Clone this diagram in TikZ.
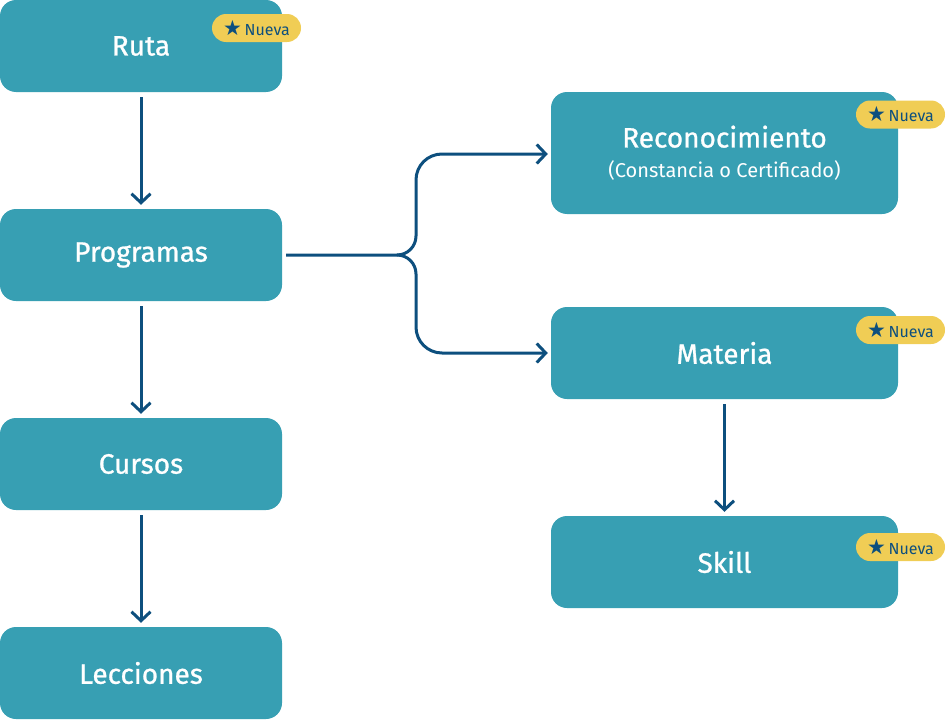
\documentclass[tikz,border=0pt]{standalone}
\usepackage{fontspec}
\setmainfont{Fira Sans}
\newfontfamily\medf[FakeBold=0.9]{Fira Sans}
\newfontfamily\regf{Fira Sans}
\newfontfamily\symf{DejaVu Sans}
\usetikzlibrary{arrows.meta}
\definecolor{teal1}{HTML}{379FB3}
\definecolor{navy}{HTML}{0D4F7E}
\definecolor{gold}{HTML}{F0CD55}
\begin{document}
\begin{tikzpicture}[x=1pt,y=-1pt,
  box/.style={fill=teal1,rounded corners=16pt,inner sep=0pt,text=white,font=\medf\fontsize{28}{30}\selectfont},
  badge/.style={fill=gold,rounded corners=14pt,minimum width=89pt,minimum height=28pt,inner sep=0pt,text=navy,font=\fontsize{16}{17}\selectfont},
  conn/.style={draw=navy,line width=3pt,-{Straight Barb[length=9pt,width=19pt,line width=3pt]}}]
\useasboundingbox (0,0) rectangle (946,720);
\node[box,minimum width=282pt,minimum height=92pt] (ruta) at (141,46) {Ruta};
\node[box,minimum width=282pt,minimum height=92pt] (prog) at (141,255) {Programas};
\node[box,minimum width=282pt,minimum height=92pt] (cur) at (141,464) {Cursos};
\node[box,minimum width=282pt,minimum height=92pt] (lec) at (141,673) {Lecciones};
\node[box,minimum width=347pt,minimum height=122pt,align=center] (rec) at (724.5,153) {Reconocimiento\\[0pt]{\regf\fontsize{20}{22}\selectfont (Constancia o Certificado)}};
\node[box,minimum width=347pt,minimum height=92pt] (mat) at (724.5,353) {Materia};
\node[box,minimum width=347pt,minimum height=92pt] (sk) at (724.5,562) {Skill};
\node[badge] (b1) at (256.5,28) {{\symf\fontsize{21}{17}\selectfont ★}\,Nueva};
\node[badge] (b2) at (900.5,114.5) {{\symf\fontsize{21}{17}\selectfont ★}\,Nueva};
\node[badge] (b3) at (900.5,330) {{\symf\fontsize{21}{17}\selectfont ★}\,Nueva};
\node[badge] (b4) at (900.5,547) {{\symf\fontsize{21}{17}\selectfont ★}\,Nueva};
\draw[conn] ([yshift=-5pt]ruta.south) -- ([yshift=4pt]prog.north);
\draw[conn] ([yshift=-5pt]prog.south) -- ([yshift=4pt]cur.north);
\draw[conn] ([yshift=-5pt]cur.south) -- ([yshift=4pt]lec.north);
\draw[conn] ([yshift=-5pt]mat.south) -- ([yshift=4pt]sk.north);
\coordinate (j) at (397,255);
\draw[conn] ([xshift=4pt]prog.east) -- (j) to[out=0,in=-90] (416,236) -- (416,180) to[out=90,in=180] (442,154) -- ([xshift=-3pt]rec.west|-0,154);
\draw[conn] (j) to[out=0,in=90] (416,274) -- (416,327) to[out=-90,in=180] (442,353) -- ([xshift=-3pt]mat.west);
\end{tikzpicture}
\end{document}
